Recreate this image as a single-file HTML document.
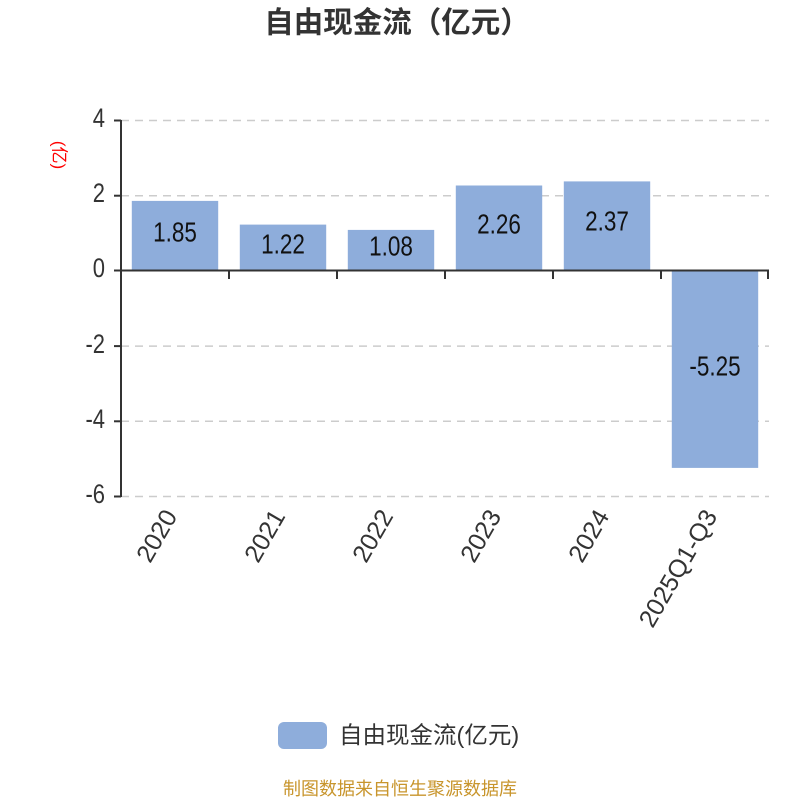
<!DOCTYPE html>
<html>
<head>
<meta charset="utf-8">
<style>
  html,body{margin:0;padding:0;background:#fff;}
  svg{display:block;}
  text{font-family:"Liberation Sans","Noto Sans CJK SC",sans-serif;}
</style>
</head>
<body>
<svg width="800" height="800" viewBox="0 0 800 800" xmlns="http://www.w3.org/2000/svg">
  <rect width="800" height="800" fill="#fff"/>
  <!-- Title -->
  <text x="397" y="23" text-anchor="middle" dominant-baseline="central" font-size="29.5" font-weight="bold" fill="#333">自由现金流（亿元）</text>

  <!-- Y axis name -->
  <text x="59" y="155" text-anchor="middle" dominant-baseline="central" font-size="17" fill="#ff0000" transform="rotate(90 59 155)">(亿)</text>

  <!-- grid dashed lines -->
  <g stroke="#cccccc" stroke-width="1.5" stroke-dasharray="8 6">
    <line x1="121" y1="120.5" x2="769" y2="120.5"/>
    <line x1="121" y1="195.7" x2="769" y2="195.7"/>
    <line x1="121" y1="346.1" x2="769" y2="346.1"/>
    <line x1="121" y1="421.3" x2="769" y2="421.3"/>
    <line x1="121" y1="496.5" x2="769" y2="496.5"/>
  </g>

  <!-- bars -->
  <g fill="#8eaddb">
    <rect x="131.8" y="200.9" width="86.4" height="69.6"/>
    <rect x="239.8" y="224.6" width="86.4" height="45.9"/>
    <rect x="347.8" y="229.9" width="86.4" height="40.6"/>
    <rect x="455.8" y="185.5" width="86.4" height="85.0"/>
    <rect x="563.8" y="181.4" width="86.4" height="89.1"/>
    <rect x="671.8" y="270.5" width="86.4" height="197.4"/>
  </g>

  <!-- y axis -->
  <line x1="121" y1="120" x2="121" y2="497" stroke="#333" stroke-width="2"/>
  <g stroke="#333" stroke-width="2">
    <line x1="114" y1="120.5" x2="121" y2="120.5"/>
    <line x1="114" y1="195.7" x2="121" y2="195.7"/>
    <line x1="114" y1="270.5" x2="121" y2="270.5"/>
    <line x1="114" y1="346.1" x2="121" y2="346.1"/>
    <line x1="114" y1="421.3" x2="121" y2="421.3"/>
    <line x1="114" y1="496.5" x2="121" y2="496.5"/>
  </g>
  <g font-size="22" fill="#333" text-anchor="end" dominant-baseline="central">
    <text transform="translate(105,119) scale(1,1.2)">4</text>
    <text transform="translate(105,194) scale(1,1.2)">2</text>
    <text transform="translate(105,269) scale(1,1.2)">0</text>
    <text transform="translate(105,345) scale(1,1.2)">-2</text>
    <text transform="translate(105,420) scale(1,1.2)">-4</text>
    <text transform="translate(105,495) scale(1,1.2)">-6</text>
  </g>

  <!-- x axis at zero -->
  <line x1="121" y1="270.5" x2="769" y2="270.5" stroke="#333" stroke-width="2"/>
  <g stroke="#333" stroke-width="2">
    <line x1="229" y1="270" x2="229" y2="279"/>
    <line x1="337" y1="270" x2="337" y2="279"/>
    <line x1="445" y1="270" x2="445" y2="279"/>
    <line x1="553" y1="270" x2="553" y2="279"/>
    <line x1="661" y1="270" x2="661" y2="279"/>
    <line x1="768" y1="270" x2="768" y2="279"/>
  </g>

  <!-- bar value labels -->
  <g font-size="22.5" fill="#111" text-anchor="middle" dominant-baseline="central">
    <text transform="translate(175,233) scale(1,1.22)">1.85</text>
    <text transform="translate(283,245) scale(1,1.22)">1.22</text>
    <text transform="translate(391,247) scale(1,1.22)">1.08</text>
    <text transform="translate(499,225) scale(1,1.22)">2.26</text>
    <text transform="translate(607,222) scale(1,1.22)">2.37</text>
    <text transform="translate(715,367) scale(1,1.22)">-5.25</text>
  </g>

  <!-- x axis labels -->
  <g font-size="25" fill="#333" text-anchor="end" dominant-baseline="central">
    <text x="171" y="512" transform="rotate(-60 171 512)">2020</text>
    <text x="279" y="512" transform="rotate(-60 279 512)">2021</text>
    <text x="387" y="512" transform="rotate(-60 387 512)">2022</text>
    <text x="495" y="512" transform="rotate(-60 495 512)">2023</text>
    <text x="603" y="512" transform="rotate(-60 603 512)">2024</text>
    <text x="711" y="512" transform="rotate(-60 711 512)">2025Q1-Q3</text>
  </g>

  <!-- legend -->
  <rect x="278" y="722" width="49" height="27" rx="6" ry="6" fill="#8eaddb"/>
  <text x="339" y="735" dominant-baseline="central" font-size="23.5" fill="#333">自由现金流(亿元)</text>

  <!-- footer -->
  <text x="400" y="789" text-anchor="middle" dominant-baseline="central" font-size="18" fill="#c8952c">制图数据来自恒生聚源数据库</text>
</svg>
</body>
</html>
